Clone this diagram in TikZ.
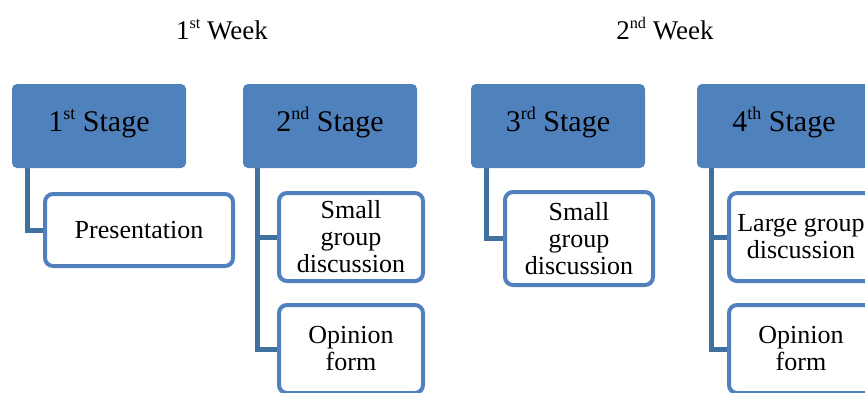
\documentclass[tikz,border=0pt]{standalone}
\usepackage{fontspec}
\setmainfont{Liberation Serif}
\usetikzlibrary{backgrounds}
\definecolor{stagefill}{HTML}{4F81BD}
\definecolor{linkcol}{HTML}{41709F}
\definecolor{childline}{HTML}{5080BE}
\newcommand\mysup[1]{\raisebox{0.4em}{\scalebox{0.6}{#1}}}
\begin{document}
\begin{tikzpicture}[x=1pt,y=-1pt,
  stagebox/.style={fill=stagefill,draw=none,rounded corners=5pt,
    minimum width=174pt,minimum height=84pt,inner sep=0pt,
    text height=1em,text depth=0em,
    font=\fontsize{30}{32}\selectfont},
  childbox/.style={fill=white,draw=childline,line width=4pt,rounded corners=8pt,
    minimum width=144pt,minimum height=88pt,inner sep=0pt,align=center,
    font=\fontsize{26}{27}\selectfont},
  weeklabel/.style={anchor=base,inner sep=0pt,font=\fontsize{27}{29}\selectfont},
  link/.style={draw=linkcol,line width=5pt}]
\useasboundingbox (0,0) rectangle (865,392);
\node[weeklabel] (w1) at (222,39) {1\mysup{st} Week};
\node[weeklabel] (w2) at (665,39) {2\mysup{nd} Week};
\node[stagebox] (s1) at (99,126) {1\mysup{st} Stage};
\node[stagebox] (s2) at (330,126) {2\mysup{nd} Stage};
\node[stagebox] (s3) at (558,126) {3\mysup{rd} Stage};
\node[stagebox] (s4) at (784,126) {4\mysup{th} Stage};
\node[childbox,minimum width=188pt,minimum height=72pt] (c1) at (139,230) {Presentation};
\node[childbox] (c2a) at (351,237) {Small\\group\\discussion};
\node[childbox] (c2b) at (351,349) {Opinion\\form};
\node[childbox,minimum width=148pt,minimum height=93pt] (c3) at (579,238.5) {Small\\group\\discussion};
\node[childbox] (c4a) at (801,237) {Large group\\discussion};
\node[childbox] (c4b) at (801,349) {Opinion\\form};
\begin{scope}[on background layer]
\draw[link] ([xshift=16pt]s1.south west) |- (c1.west);
\draw[link] ([xshift=15pt]s2.south west) |- (c2a.west);
\draw[link] ([xshift=15pt]s2.south west) |- (c2b.west);
\draw[link] ([xshift=16pt]s3.south west) |- (c3.west);
\draw[link] ([xshift=15pt]s4.south west) |- (c4a.west);
\draw[link] ([xshift=15pt]s4.south west) |- (c4b.west);
\end{scope}
\end{tikzpicture}
\end{document}
